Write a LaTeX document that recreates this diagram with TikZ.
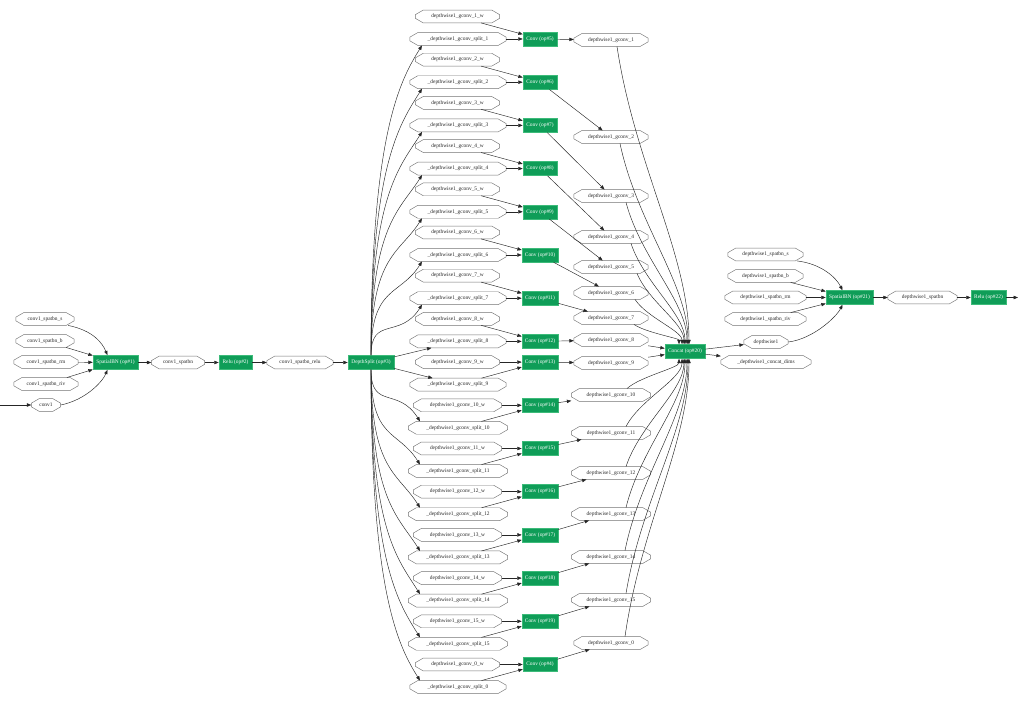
\documentclass[tikz,border=0pt]{standalone}
\usepackage{fontspec}
\setmainfont{Liberation Serif}
\usetikzlibrary{arrows.meta,calc}
\definecolor{opgreen}{HTML}{0F9D58}
\definecolor{opedge}{HTML}{3DBB7A}
\tikzset{
  octn/.style={inner sep=0pt, minimum height=12.5pt, text=black!85, font=\fontsize{5.4}{6}\selectfont},
  octline/.style={draw=black!55, line width=0.45pt},
  opbox/.style={fill=opgreen, draw=opedge, line width=0.5pt, inner sep=0pt, minimum height=14pt, text=white, font=\fontsize{5.4}{6}\selectfont},
  edge/.style={draw=black!85, line width=0.45pt, -{Triangle[length=4.4pt,width=3.4pt]}},
}
\newcommand\octnode[5]{%
  \node[octn, minimum width=#4pt] (#1) at (#2,#3) {#5};
  \draw[octline] ([xshift=8pt]#1.north west) -- ([xshift=-8pt]#1.north east)
    -- ([yshift=1.8pt]#1.east) -- ([yshift=-1.8pt]#1.east)
    -- ([xshift=-8pt]#1.south east) -- ([xshift=8pt]#1.south west)
    -- ([yshift=-1.8pt]#1.west) -- ([yshift=1.8pt]#1.west) -- cycle;}
\begin{document}
\begin{tikzpicture}[x=1pt,y=-1pt]
\useasboundingbox (0,0) rectangle (1018,703);
% ---------- left part ----------
\octnode{cs}{45}{319}{58}{conv1\_spatbn\_s}
\octnode{cb}{45}{341}{58}{conv1\_spatbn\_b}
\octnode{crm}{46}{362}{64}{conv1\_spatbn\_rm}
\octnode{criv}{46}{384}{64}{conv1\_spatbn\_riv}
\octnode{cv}{46}{405}{29}{conv1}
\coordinate (inl) at (0,405);
\node[opbox, minimum width=45pt] (sbn1) at (115.5,362.5) {SpatialBN (op\#1)};
\octnode{csb}{178}{362.5}{53}{conv1\_spatbn}
\node[opbox, minimum width=33pt] (relu2) at (235.5,362.5) {Relu (op\#2)};
\octnode{csr}{300}{362.5}{66}{conv1\_spatbn\_relu}
\node[opbox, minimum width=46pt] (ds) at (371,362.5) {DepthSplit (op\#3)};
\draw[edge] (inl) -- (cv);
\draw[edge] ([xshift=-6pt]cs.south east) .. controls +(25,5) and +(-5,-12) .. ([xshift=-8pt]sbn1.north);
\draw[edge] (cb) -- (sbn1);
\draw[edge] (crm) -- (sbn1);
\draw[edge] (criv) -- (sbn1);
\draw[edge] (cv.east) .. controls +(25,-5) and +(-5,12) .. ([xshift=-8pt]sbn1.south);
\draw[edge] (sbn1) -- (csb);
\draw[edge] (csb) -- (relu2);
\draw[edge] (relu2) -- (csr);
\draw[edge] (csr) -- (ds);
% ---------- concat and right part ----------
\node[opbox, minimum width=40pt] (cc) at (685,351.5) {Concat (op\#20)};
\octnode{dw}{766}{342}{44}{depthwise1}
\octnode{dcd}{766}{362}{90}{\_depthwise1\_concat\_dims}
\octnode{ds_s}{765.5}{254.5}{75}{depthwise1\_spatbn\_s}
\octnode{ds_b}{765.5}{276}{75}{depthwise1\_spatbn\_b}
\octnode{ds_rm}{765.5}{297.5}{81}{depthwise1\_spatbn\_rm}
\octnode{ds_riv}{765.5}{319}{81}{depthwise1\_spatbn\_riv}
\node[opbox, minimum width=47pt] (sbn21) at (849.5,297.5) {SpatialBN (op\#21)};
\octnode{dsb}{922.5}{297.5}{69}{depthwise1\_spatbn}
\node[opbox, minimum width=35pt] (relu22) at (988.5,297.5) {Relu (op\#22)};
\coordinate (outr) at (1018,297.5);
\draw[edge] (cc) -- (dw);
\draw[edge] (cc) -- (dcd);
\draw[edge] ([xshift=-6pt]ds_s.south east) .. controls +(25,3) and +(-6,-12) .. ([xshift=-7pt]sbn21.north);
\draw[edge] (ds_b) -- (sbn21);
\draw[edge] (ds_rm) -- (sbn21);
\draw[edge] (ds_riv) -- (sbn21);
\draw[edge] (dw.east) .. controls +(25,-3) and +(-6,12) .. ([xshift=-7pt]sbn21.south);
\draw[edge] (sbn21) -- (dsb);
\draw[edge] (dsb) -- (relu22);
\draw[edge] (relu22) -- (outr);
% ---------- the sixteen grouped convolutions ----------
\foreach \k/\lab/\opn/\gy/\lev/\wid in {
  1/1/5/40/0/0, 2/2/6/137/0/0, 3/3/7/196/0/0, 4/4/8/237/0/0,
  5/5/9/267/0/0, 6/6/10/293/0/0, 7/7/11/318/0/0, 8/8/12/340/0/0,
  9/9/13/363/1/0, 10/10/14/395/1/1, 11/11/15/433/1/1, 12/12/16/473/1/1,
  13/13/17/514/1/1, 14/14/18/557/1/1, 15/15/19/600/1/1, 16/0/4/643/1/0}{
  \pgfmathsetmacro\wy{16.5+43.2*(\k-1)}
  \pgfmathsetmacro\sy{\wy+22.5}
  \pgfmathsetmacro\cy{ifthenelse(\lev==0,\sy,\wy)}
  \pgfmathsetmacro\wwid{ifthenelse(\wid==1,88,84)}
  \pgfmathsetmacro\swid{ifthenelse(\wid==1,99,96)}
  \pgfmathsetmacro\gwid{ifthenelse(\wid==1,79,74)}
  \pgfmathsetmacro\cwid{ifthenelse(\opn>9,36,34)}
  \octnode{w\k}{457.5}{\wy}{\wwid}{depthwise1\_gconv\_\lab\_w}
  \octnode{s\k}{458}{\sy}{\swid}{\_depthwise1\_gconv\_split\_\lab}
  \node[opbox, minimum width=\cwid pt] (c\k) at (540,\cy) {Conv (op\#\opn)};
  \octnode{g\k}{611}{\gy}{\gwid}{depthwise1\_gconv\_\lab}
  \draw[edge] (w\k) -- (c\k);
  \draw[edge] (s\k) -- (c\k);
  \draw[edge] (c\k) -- (g\k);
}
% DepthSplit to the splits
\foreach \k in {1,...,7}{
  \pgfmathsetmacro\dd{0.7*(355-(39+43.2*(\k-1)))}
  \draw[edge] (ds.north) .. controls +(0,-\dd) and +(-22,35) .. ([xshift=-36pt]s\k.south);
}
\foreach \k in {10,...,16}{
  \pgfmathsetmacro\dd{0.7*((39+43.2*(\k-1))-370)}
  \draw[edge] (ds.south) .. controls +(0,\dd) and +(-22,-35) .. ([xshift=-38pt]s\k.north);
}
\draw[edge] (ds) -- (s8);
\draw[edge] (ds) -- (s9);
% grouped convolutions to Concat
\foreach \k/\gy/\sxo/\exo in {1/40/6/4, 2/137/9/3, 3/196/15/2, 4/237/20/0, 5/267/26/-1, 6/293/24/-3, 7/318/23/-6}{
  \pgfmathsetmacro\ddx{0.25*((685+\exo)-(611+\sxo))}
  \pgfmathsetmacro\ddy{0.4*(344-(\gy+6.25))}
  \pgfmathsetmacro\ddz{0.3*(344-(\gy+6.25))}
  \draw[edge] ([xshift=\sxo pt]g\k.south) .. controls +(\ddx,\ddy) and +(0,-\ddz) .. ([xshift=\exo pt]cc.north);
}
\foreach \k/\gy/\sxo/\exo in {10/395/16/-6, 11/433/15/-3, 12/473/15/-1, 13/514/15/0, 14/557/14/2, 15/600/15/3, 16/643/14/4}{
  \pgfmathsetmacro\ddx{0.25*((685+\exo)-(611+\sxo))}
  \pgfmathsetmacro\ddy{0.4*((\gy-6.25)-359)}
  \pgfmathsetmacro\ddz{0.3*((\gy-6.25)-359)}
  \draw[edge] ([xshift=\sxo pt]g\k.north) .. controls +(\ddx,-\ddy) and +(0,\ddz) .. ([xshift=\exo pt]cc.south);
}
\draw[edge] (g8) -- (cc);
\draw[edge] (g9) -- (cc);
\end{tikzpicture}
\end{document}
